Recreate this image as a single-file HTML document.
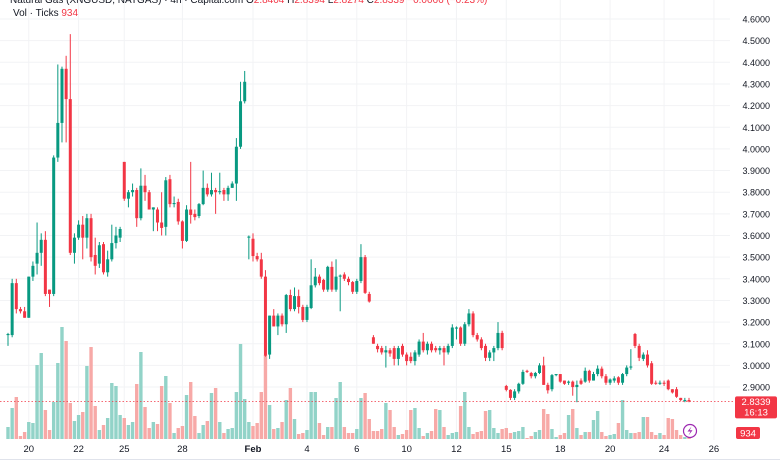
<!DOCTYPE html>
<html><head><meta charset="utf-8"><style>
html,body{margin:0;padding:0;background:#fff;}
body{width:780px;height:470px;overflow:hidden;position:relative;font-family:"Liberation Sans",sans-serif;}
svg{position:absolute;left:0;top:0;}
</style></head><body>
<svg id="chart" width="780" height="470"></svg>
<script>
const opens=[3.14,3.14,3.38,3.26,3.25,3.22,3.41,3.47,3.52,3.58,3.35,3.33,3.96,4.12,4.37,4.23,3.52,3.59,3.65,3.59,3.68,3.51,3.47,3.56,3.43,3.49,3.565,3.59,3.94,3.77,3.80,3.81,3.68,3.83,3.80,3.72,3.72,3.66,3.64,3.86,3.745,3.755,3.665,3.575,3.72,3.70,3.69,3.745,3.82,3.79,3.81,3.80,3.81,3.79,3.82,3.84,4.01,4.22,3.59,3.585,3.505,3.49,3.41,3.05,3.23,3.18,3.23,3.19,3.325,3.26,3.32,3.27,3.21,3.265,3.37,3.41,3.395,3.35,3.455,3.35,3.41,3.42,3.40,3.385,3.34,3.39,3.50,3.33,3.13,3.09,3.08,3.06,3.07,3.08,3.03,3.09,3.05,3.04,3.02,3.05,3.11,3.07,3.10,3.08,3.07,3.08,3.06,3.09,3.17,3.175,3.10,3.19,3.24,3.14,3.12,3.09,3.035,3.06,3.08,3.15,
2.905,2.887,2.85,2.88,2.915,2.975,2.965,2.95,2.965,3.0,2.91,2.89,2.955,2.96,2.93,2.92,2.925,2.90,2.93,2.925,2.975,2.93,2.96,2.985,2.95,2.92,2.93,2.945,2.92,2.96,2.99,3.145,3.09,3.03,3.05,3.01,2.92,2.915,2.92,2.93,2.89,2.89,2.85,2.835,2.84];
const highs=[3.15,3.40,3.40,3.27,3.27,3.41,3.48,3.66,3.61,3.62,3.35,3.97,4.39,4.38,4.43,4.53,3.61,3.67,3.69,3.70,3.70,3.59,3.57,3.57,3.53,3.65,3.64,3.64,3.94,3.81,3.84,3.82,3.91,3.88,3.81,3.73,3.73,3.80,3.87,3.88,3.78,3.77,3.67,3.74,3.94,3.72,3.75,3.90,3.84,3.89,3.82,3.89,3.82,3.83,3.85,4.05,4.31,4.36,3.60,3.61,3.52,3.52,3.44,3.23,3.26,3.24,3.24,3.33,3.35,3.36,3.35,3.28,3.28,3.49,3.45,3.42,3.40,3.46,3.48,3.49,3.42,3.43,3.41,3.39,3.40,3.56,3.51,3.34,3.14,3.10,3.09,3.09,3.08,3.09,3.09,3.10,3.06,3.06,3.07,3.12,3.15,3.11,3.11,3.09,3.09,3.09,3.10,3.19,3.18,3.18,3.20,3.26,3.25,3.15,3.13,3.10,3.07,3.09,3.20,3.16,
2.91,2.89,2.89,2.92,2.98,2.98,2.97,2.97,3.01,3.04,2.92,2.96,2.96,2.96,2.93,2.93,2.93,2.93,2.94,2.99,2.98,2.97,3.0,2.995,2.96,2.94,2.95,2.95,2.965,3.0,3.075,3.15,3.10,3.06,3.07,3.02,2.93,2.93,2.93,2.935,2.89,2.90,2.85,2.85,2.85];
const lows=[3.09,3.13,3.24,3.24,3.22,3.22,3.39,3.42,3.46,3.32,3.27,3.32,3.94,4.03,4.03,3.51,3.47,3.58,3.49,3.54,3.48,3.42,3.45,3.42,3.41,3.48,3.54,3.57,3.76,3.73,3.78,3.64,3.67,3.76,3.72,3.62,3.62,3.60,3.60,3.73,3.73,3.65,3.54,3.57,3.655,3.67,3.68,3.74,3.78,3.78,3.70,3.79,3.76,3.76,3.82,3.76,4.00,4.21,3.49,3.48,3.48,3.40,3.04,3.03,3.18,3.14,3.18,3.15,3.25,3.25,3.24,3.20,3.20,3.26,3.36,3.37,3.34,3.34,3.34,3.34,3.25,3.39,3.37,3.33,3.33,3.38,3.33,3.29,3.10,3.06,3.05,2.99,3.04,3.00,3.00,3.04,3.00,3.01,3.00,3.04,3.06,3.05,3.06,3.06,3.05,3.00,3.05,3.08,3.12,3.09,3.09,3.18,3.13,3.11,3.07,3.02,3.02,3.02,3.07,3.07,
2.88,2.84,2.84,2.87,2.91,2.965,2.94,2.94,2.96,2.91,2.87,2.88,2.95,2.92,2.91,2.91,2.86,2.83,2.91,2.92,2.92,2.93,2.95,2.94,2.91,2.91,2.92,2.91,2.91,2.95,2.98,3.08,3.02,3.02,2.99,2.91,2.91,2.91,2.905,2.885,2.87,2.85,2.835,2.83,2.83];
const closes=[3.145,3.38,3.26,3.25,3.22,3.41,3.46,3.52,3.58,3.33,3.33,3.96,4.12,4.37,4.23,3.52,3.59,3.65,3.59,3.68,3.50,3.46,3.555,3.43,3.49,3.565,3.60,3.63,3.77,3.80,3.81,3.68,3.83,3.80,3.72,3.73,3.66,3.635,3.855,3.745,3.75,3.665,3.575,3.72,3.695,3.685,3.745,3.82,3.79,3.81,3.80,3.805,3.79,3.82,3.84,4.01,4.22,4.31,3.595,3.505,3.49,3.41,3.045,3.23,3.18,3.23,3.19,3.325,3.26,3.32,3.27,3.21,3.27,3.37,3.41,3.38,3.35,3.455,3.35,3.41,3.415,3.40,3.385,3.34,3.39,3.50,3.335,3.295,3.10,3.075,3.06,3.07,3.055,3.03,3.08,3.05,3.02,3.02,3.06,3.11,3.07,3.10,3.07,3.07,3.08,3.06,3.09,3.175,3.175,3.10,3.19,3.24,3.14,3.12,3.08,3.035,3.06,3.08,3.15,3.08,
2.887,2.85,2.88,2.915,2.97,2.97,2.95,2.965,3.0,2.91,2.885,2.955,2.96,2.925,2.915,2.925,2.90,2.91,2.915,2.975,2.93,2.96,2.985,2.95,2.92,2.935,2.94,2.92,2.96,2.99,2.995,3.09,3.035,3.05,3.0,2.915,2.915,2.92,2.915,2.89,2.875,2.855,2.84,2.84,2.834];
const volumes=[12,31,42,3,7,17,16,74,86,29,9,37,76,112,98,36,18,24,27,73,92,33,9,14,21,56,53,24,21,14,17,55,87,32,11,17,15,53,63,36,6,11,13,44,57,23,6,14,18,46,51,17,6,10,11,47,95,40,17,13,16,47,84,34,10,11,17,39,51,20,5,6,9,47,47,16,4,12,12,41,57,12,6,6,10,41,46,20,8,8,10,36,29,12,4,5,9,29,31,11,3,6,8,30,29,12,4,6,7,33,47,12,5,7,8,28,29,11,6,10,
11,6,7,8,12,1,3,7,9,30,25,10,2,4,6,24,30,11,4,7,7,19,28,7,3,4,5,16,39,9,6,6,7,22,22,7,4,6,4,21,20,9,4,2,2];
const priceTicks=[4.6,4.5,4.4,4.3,4.2,4.1,4.0,3.9,3.8,3.7,3.6,3.5,3.4,3.3,3.2,3.1,3.0,2.9];
const timeLabels=["20","22","25","28","Feb","4","6","10","12","15","18","20","24","26"];
const timeSlots=[5,17,28,42,59,72,84,96,108,120,133,145,158,170];
const lastPrice=2.8339;

const NS="http://www.w3.org/2000/svg";
const svg=document.getElementById('chart');
const yP=p=>19+(4.6-p)*216.5;
const N=opens.length;
const xI=i=>8+i*(681/(N-1));
const baseV=439;
const yV=v=>baseV-v;
function mk(tag,attrs,parent){const e=document.createElementNS(NS,tag);for(const k in attrs)e.setAttribute(k,attrs[k]);(parent||svg).appendChild(e);return e;}
// grid
const grid=mk('g',{});


priceTicks.forEach(p=>{mk('line',{x1:0,x2:730,y1:yP(p),y2:yP(p),stroke:'#f2f3f5','stroke-width':1},grid);});
timeSlots.forEach(s=>{const x=xI(s);mk('line',{x1:x,x2:x,y1:0,y2:440,stroke:'#f2f3f5','stroke-width':1},grid);});
// volumes
const vg=mk('g',{});


volumes.forEach((v,i)=>{const up=closes[i]>=opens[i];const r=mk('rect',{x:xI(i)-1.7,y:yV(v),width:3.4,height:v,fill:up?'#92d3c8':'#f7a9a7'},vg);

});
// candles
const cg=mk('g',{});


for(let i=0;i<N;i++){const up=closes[i]>=opens[i];const col=up?'#089981':'#f23645';const x=xI(i);
const g=mk('g',{},cg);


mk('line',{x1:x,x2:x,y1:yP(highs[i]),y2:yP(lows[i]),stroke:col,'stroke-width':1},g);
const t=yP(Math.max(opens[i],closes[i])),b=yP(Math.min(opens[i],closes[i]));
mk('rect',{x:x-1.5,y:t,width:3,height:Math.max(1,b-t),fill:col},g);}
// last price line
const lp=mk('line',{x1:0,x2:735,y1:yP(lastPrice),y2:yP(lastPrice),stroke:'#f23645','stroke-width':0.8,'stroke-dasharray':'1.5,2'});


// axis labels
const ag=mk('g',{});


priceTicks.forEach(p=>{const t=mk('text',{x:770,y:yP(p)+3.5,'text-anchor':'end','font-size':9,fill:'#131722'},ag);t.textContent=p.toFixed(4);

});
const tg=mk('g',{});


timeLabels.forEach((l,k)=>{const t=mk('text',{x:xI(timeSlots[k]),y:452,'text-anchor':'middle','font-size':9.5,fill:'#131722','font-weight':l==='Feb'?'bold':'normal'},tg);t.textContent=l;

});
mk('line',{x1:0,x2:780,y1:459.5,y2:459.5,stroke:'#e0e3eb','stroke-width':1});
// price badge
const pb=mk('g',{});


mk('rect',{x:735,y:yP(lastPrice)-5,width:42,height:22,rx:2,fill:'#f23645'},pb);
let t1=mk('text',{x:756,y:yP(lastPrice)+3.5,'text-anchor':'middle','font-size':9.5,fill:'#fff'},pb);t1.textContent=lastPrice.toFixed(4);
let t2=mk('text',{x:756,y:yP(lastPrice)+14,'text-anchor':'middle','font-size':9.5,fill:'#fff'},pb);t2.textContent='16:13';
const vb=mk('g',{});


mk('rect',{x:736,y:427,width:24,height:12,rx:2,fill:'#f23645'},vb);
let t3=mk('text',{x:748,y:436.5,'text-anchor':'middle','font-size':9.5,fill:'#fff'},vb);t3.textContent='934';
// lightning icon
const li=mk('g',{});


mk('circle',{cx:690,cy:431,r:6.5,fill:'#fff',stroke:'#9c27b0','stroke-width':1.2},li);
mk('path',{d:'M691.5 426.5 L687.5 431.5 L690.5 431.5 L688.5 435.5 L692.5 430.2 L689.7 430.2 Z',fill:'#9c27b0'},li);
// header
let h1=mk('text',{x:10,y:3,'font-size':10,fill:'#131722'});


h1.innerHTML='Natural Gas (XNGUSD, NATGAS) · 4h · Capital.com  O<tspan fill="#f23645">2.8404</tspan> H<tspan fill="#f23645">2.8394</tspan> L<tspan fill="#f23645">2.8274</tspan> C<tspan fill="#f23645">2.8339 −0.0066 (−0.23%)</tspan>';
let h2=mk('text',{x:13,y:16,'font-size':10,fill:'#131722'});


h2.innerHTML='Vol · Ticks <tspan fill="#f23645">934</tspan>';
</script>
</body></html>
